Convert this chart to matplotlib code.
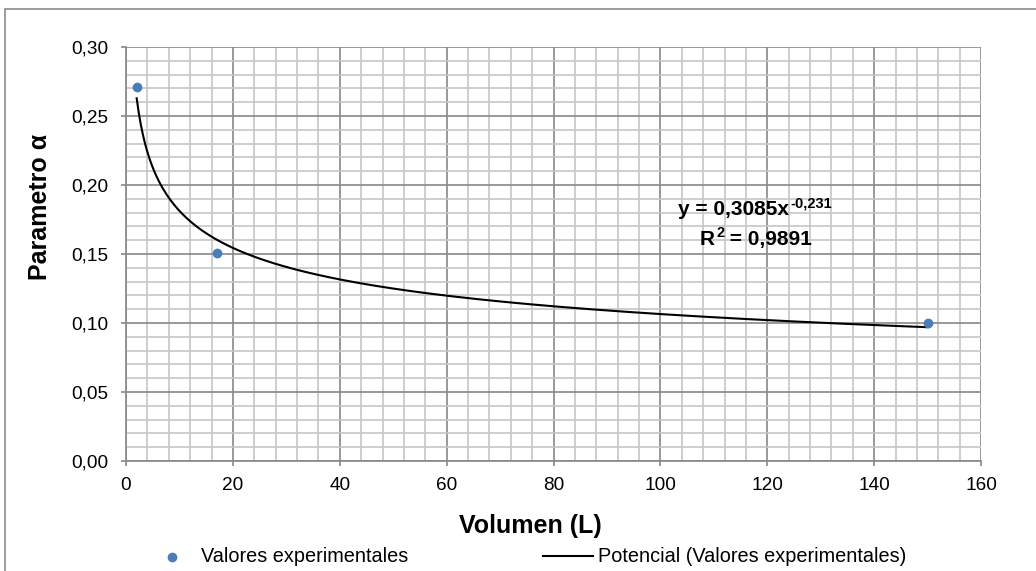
import numpy as np
import matplotlib
matplotlib.use("Agg")
import matplotlib.pyplot as plt
from matplotlib.patches import Rectangle

plt.rcParams['font.family'] = ['Liberation Sans', 'DejaVu Sans']

# data
volumen = [2, 17, 150]
alpha = [0.271, 0.151, 0.100]

# power trendline as reported on the chart
coef_a = 0.3085
coef_b = -0.231

x_ticks = [0, 20, 40, 60, 80, 100, 120, 140, 160]
y_ticks = [0.00, 0.05, 0.10, 0.15, 0.20, 0.25, 0.30]

W, H = 1036, 571

def fx(px):
    return px / W

def fy(py):
    return 1 - py / H

fig = plt.figure(figsize=(10.36, 5.71), dpi=100)
ax = fig.add_axes([fx(126), fy(461), (981 - 126) / W, (461 - 47) / H])

# outer chart border, cut off at right/bottom like the screenshot
fig.patches.append(Rectangle((fx(5), -0.05), 1.1, fy(9) + 0.05,
                             transform=fig.transFigure, fill=False,
                             edgecolor="#8c8c8c", linewidth=1.2))

ax.set_xlim(0, 160)
ax.set_ylim(0, 0.30)
ax.set_xticks(x_ticks)
ax.set_yticks(y_ticks)
ax.set_xticks(np.arange(0, 161, 4), minor=True)
ax.set_yticks(np.arange(0, 0.301, 0.01), minor=True)
ax.set_xticklabels([str(v) for v in x_ticks], fontsize=13.7)
ax.set_yticklabels([f"{v:.2f}".replace(".", ",") for v in y_ticks], fontsize=13.7)

ax.grid(which="minor", color="#c6c6c6", linewidth=1.2)
ax.grid(which="major", color="#888888", linewidth=1.2)
ax.set_axisbelow(True)
for s in ["top", "right"]:
    ax.spines[s].set_visible(False)
for s in ["left", "bottom"]:
    ax.spines[s].set_color("#888888")
    ax.spines[s].set_linewidth(1.2)
ax.tick_params(which="major", direction="out", length=3.8, color="#888888", width=1.2)
ax.tick_params(axis="y", pad=9)
ax.tick_params(axis="x", pad=7.5)
ax.tick_params(which="minor", length=0)

xs = np.linspace(min(volumen), max(volumen), 400)
line, = ax.plot(xs, coef_a * xs ** coef_b, color="black", linewidth=1.5,
                label="Potencial (Valores experimentales)")
pts = ax.scatter(volumen, alpha, s=36, color="#4a7ebb", zorder=3,
                 label="Valores experimentales")

# trendline equation with superscripts, placed by measuring the text
renderer = fig.canvas.get_renderer()

def sup_after(base, text, raise_px):
    bb = base.get_window_extent(renderer=renderer)
    x0, y0 = base.get_position()
    return fig.text(bb.x1 / W + fx(1), y0 + raise_px / H, text, ha="left",
                    va="baseline", fontsize=10.5, fontweight="bold")

eq = fig.text(fx(678), fy(215), "y = 0,3085x", ha="left", va="baseline",
              fontsize=15, fontweight="bold")
sup_after(eq, "-0,231", 8)

r = fig.text(fx(700), fy(245), "R", ha="left", va="baseline",
             fontsize=15, fontweight="bold")
two = sup_after(r, "2", 8)
bb2 = two.get_window_extent(renderer=renderer)
fig.text(bb2.x1 / W, fy(245), " = 0,9891", ha="left", va="baseline",
         fontsize=15, fontweight="bold")

fig.text(fx(530), fy(526), "Volumen (L)", ha="center", va="center",
         fontsize=18, fontweight="bold")
fig.text(fx(40), fy(207), "Parametro α", ha="center", va="center",
         rotation=90, fontsize=18, fontweight="bold")

fig.legend(handles=[pts], loc="center left", bbox_to_anchor=(fx(152), fy(557)),
           frameon=False, fontsize=14.3, handlelength=2.0, handletextpad=0.45,
           borderpad=0, borderaxespad=0)
fig.legend(handles=[line], loc="center left", bbox_to_anchor=(fx(543), fy(557)),
           frameon=False, fontsize=14.3, handlelength=2.5, handletextpad=0.25,
           borderpad=0, borderaxespad=0)

fig.savefig("out.png", dpi=100)
